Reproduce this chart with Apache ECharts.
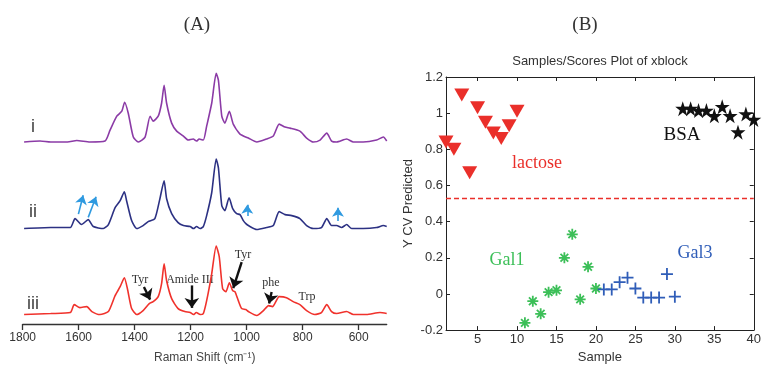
<!DOCTYPE html>
<html>
<head>
<meta charset="utf-8">
<title>Raman spectra and PLS-DA scores</title>
<script src="https://cdn.jsdelivr.net/npm/echarts@6/dist/echarts.min.js"></script>
<style>
  html, body { margin: 0; padding: 0; background: #fff; }
  #chart { width: 764px; height: 369px; }
</style>
</head>
<body>
<div id="chart"></div>
<script>
// ---- panel A: Raman spectra (intensity above each trace's own baseline, a.u.)
var waveI = [1795, 1738, 1700, 1640, 1607, 1560, 1506, 1488, 1464, 1446, 1436, 1423, 1405, 1387, 1363, 1345, 1334, 1316, 1304, 1295, 1286, 1268, 1250, 1226, 1209, 1191, 1179, 1170, 1155, 1143, 1125, 1109, 1101, 1089, 1078, 1062, 1048, 1024, 994, 964, 929, 905, 884, 863, 845, 810, 786, 762, 738, 714, 697, 679, 643, 619, 584, 536, 512, 500]
var intensityI = [0, 1, 0, 0, 1.5, 0, 1, 12, 26, 31, 40, 29, 5, 0, 5, 26, 21, 26, 39, 57, 39, 19, 11, 6, 2, 3, 1, 3, 2, 16, 39, 69, 62, 26, 19, 31, 18, 8, 4, 0, 3, 6, 18, 15, 14, 11, 4, 0, 2, 9, 1, 0, 3, 0, 0, 2, 5, 1]

var waveII = [1795, 1700, 1630, 1613, 1590, 1566, 1548, 1512, 1494, 1470, 1452, 1437, 1429, 1411, 1393, 1370, 1352, 1328, 1310, 1295, 1286, 1268, 1245, 1226, 1202, 1190, 1179, 1166, 1155, 1143, 1125, 1109, 1101, 1089, 1078, 1063, 1050, 1036, 1024, 1012, 1003, 994, 964, 929, 905, 884, 863, 839, 810, 786, 762, 733, 714, 697, 679, 661, 643, 625, 584, 536, 512, 500]
var intensityII = [0, 1, 1, 10, 4, 9, 2, 0, 4, 21, 28, 37, 28, 8, 0, 3, 7, 10, 30, 48, 30, 15, 6, 3, 2, 0, 2, 0, 2, 13, 36, 70, 61, 23, 18, 31, 20, 15, 14, 8, 5, 3, -1, 1, 3, 17, 14, 13, 10, 3, 0, 1, 10, 3, 3, 1, 4, 0, 0, 1, 3, 2]

var waveIII = [1795, 1700, 1630, 1616, 1596, 1571, 1553, 1524, 1494, 1470, 1452, 1437, 1426, 1411, 1393, 1370, 1348, 1334, 1316, 1304, 1295, 1286, 1268, 1245, 1221, 1202, 1190, 1180, 1166, 1155, 1143, 1125, 1109, 1098, 1086, 1074, 1062, 1050, 1042, 1030, 1018, 1003, 994, 964, 940, 922, 908, 884, 858, 834, 810, 786, 757, 733, 714, 697, 679, 643, 619, 572, 524, 500]
var intensityIII = [0, 1, 2, 10, 7, 8, 3, 0, 3, 19, 28, 37, 26, 6, 0, 4, 11, 13, 18, 31, 51, 34, 16, 6, 3, 2, 0, 2, 0, 1, 14, 41, 69, 58, 26, 23, 32, 24, 23, 14, 6, 5, 3, -1, 4, 9, 8, 18, 17, 13, 10, 4, 0, 2, 10, 3, 1, 3, 0, 0, 2, 1]

var ramanTicks = [600, 800, 1000, 1200, 1400, 1600, 1800]

// ---- panel B: samples/scores plot
var lactoseSample = [1, 2, 3, 4, 5, 6, 7, 8, 9, 10]
var lactoseValue = [0.84, 0.80, 1.10, 0.67, 1.03, 0.95, 0.89, 0.86, 0.93, 1.01]
var gal1Sample = [11, 12, 13, 14, 15, 16, 17, 18, 19, 20]
var gal1Value = [-0.16, -0.04, -0.11, 0.01, 0.02, 0.20, 0.33, -0.03, 0.15, 0.03]
var gal3Sample = [21, 22, 23, 24, 25, 26, 27, 28, 29, 30]
var gal3Value = [0.025, 0.025, 0.065, 0.09, 0.03, -0.02, -0.02, -0.02, 0.11, -0.015]
var bsaSample = [31, 32, 33, 34, 35, 36, 37, 38, 39, 40]
var bsaValue = [1.025, 1.025, 1.015, 1.015, 0.985, 1.035, 0.985, 0.895, 0.995, 0.965]
var threshold = 0.53
var sampleTicks = [5, 10, 15, 20, 25, 30, 35, 40]

// vertical offsets that stack the three spectra
var offsetI = 183
var offsetII = 96
var offsetIII = 9.5

function pairs(xs, ys, offset) {
  return xs.map(function (x, i) { return [x, ys[i] + (offset || 0)] })
}

var STAR = 'path://M50,0L61.2,34.5L97.6,34.5L68.2,55.9L79.4,90.5L50,69.1L20.6,90.5L31.8,55.9L2.4,34.5L38.8,34.5Z'
var ASTERISK = 'path://M5,0L5,10M0,5L10,5M1.5,1.5L8.5,8.5M1.5,8.5L8.5,1.5'
var PLUS = 'path://M5,0L5,10M0,5L10,5'

var serif = '"Liberation Serif", "DejaVu Serif", serif'
var sans = '"Liberation Sans", Arial, sans-serif'

function arrow(from, to, color, width) {
  return [
    { coord: from, lineStyle: { color: color, width: width, type: 'solid' } },
    { coord: to }
  ]
}

function text(x, y, str, size, color, family) {
  return {
    type: 'text',
    x: x,
    y: y,
    silent: true,
    style: {
      text: str,
      fill: color,
      fontSize: size,
      fontFamily: family,
      textAlign: 'center',
      textVerticalAlign: 'middle'
    }
  }
}

var chart = echarts.init(document.getElementById('chart'), null, { renderer: 'canvas' })

var boxAxis = {
  axisLine: { show: true, onZero: false, lineStyle: { color: '#222', width: 1 } },
  splitLine: { show: false }
}

var option = {
  animation: false,
  backgroundColor: '#fff',
  grid: [
    { left: 22.7, right: 377.3, top: 60, bottom: 43.5 },
    { left: 446, right: 9, top: 77, bottom: 29.5 }
  ],
  xAxis: [
    {
      gridIndex: 0,
      type: 'value',
      inverse: true,
      min: 500,
      max: 1800,
      axisLine: { show: true, onZero: false, lineStyle: { color: '#333', width: 1.3 } },
      axisTick: { show: true, customValues: ramanTicks, length: 6, lineStyle: { color: '#333', width: 1.3 } },
      axisLabel: {
        customValues: ramanTicks,
        color: '#333',
        fontSize: 12,
        fontFamily: sans,
        margin: 8,
        formatter: function (v) { return String(v) }
      },
      splitLine: { show: false },
      name: 'Raman Shift (cm\u207B\u00B9)',
      nameLocation: 'middle',
      nameGap: 28,
      nameTextStyle: { color: '#444', fontSize: 12, fontFamily: sans }
    },
    Object.assign({
      gridIndex: 1,
      type: 'value',
      min: 1,
      max: 40,
      position: 'bottom',
      axisTick: { show: true, inside: true, length: 4, customValues: sampleTicks, lineStyle: { color: '#222' } },
      axisLabel: { customValues: sampleTicks, color: '#333', fontSize: 13, fontFamily: sans, margin: 3 },
      name: 'Sample',
      nameLocation: 'middle',
      nameGap: 15,
      nameTextStyle: { color: '#333', fontSize: 13, fontFamily: sans }
    }, boxAxis),
    Object.assign({
      gridIndex: 1,
      type: 'value',
      min: 1,
      max: 40,
      position: 'top',
      axisTick: { show: true, inside: true, length: 4, customValues: sampleTicks, lineStyle: { color: '#222' } },
      axisLabel: { show: false }
    }, boxAxis)
  ],
  yAxis: [
    { gridIndex: 0, type: 'value', min: 0, max: 265.5, show: false },
    Object.assign({
      gridIndex: 1,
      type: 'value',
      min: -0.2,
      max: 1.2,
      interval: 0.2,
      position: 'left',
      axisTick: { show: true, inside: true, length: 4, lineStyle: { color: '#222' } },
      axisLabel: { color: '#333', fontSize: 13, fontFamily: sans, margin: 3 },
      name: 'Y CV Predicted',
      nameLocation: 'middle',
      nameGap: 31,
      nameTextStyle: { color: '#333', fontSize: 13, fontFamily: sans }
    }, boxAxis),
    Object.assign({
      gridIndex: 1,
      type: 'value',
      min: -0.2,
      max: 1.2,
      interval: 0.2,
      position: 'right',
      axisTick: { show: true, inside: true, length: 4, lineStyle: { color: '#222' } },
      axisLabel: { show: false }
    }, boxAxis)
  ],
  series: [
    {
      name: 'i',
      type: 'line',
      xAxisIndex: 0,
      yAxisIndex: 0,
      showSymbol: false,
      smooth: 0.2,
      lineStyle: { color: '#8b3ba6', width: 1.6 },
      data: pairs(waveI, intensityI, offsetI)
    },
    {
      name: 'ii',
      type: 'line',
      xAxisIndex: 0,
      yAxisIndex: 0,
      showSymbol: false,
      smooth: 0.2,
      lineStyle: { color: '#2c3183', width: 1.6 },
      data: pairs(waveII, intensityII, offsetII),
      markLine: {
        silent: true,
        symbol: ['none', 'arrow'],
        symbolSize: [9, 9],
        label: { show: false },
        data: [
          arrow([1601, 110.5], [1584, 129.5], '#2f9ae0', 1.6),
          arrow([1566, 107.2], [1538, 128], '#2f9ae0', 1.6),
          arrow([998, 108.5], [998, 120], '#2f9ae0', 1.6),
          arrow([674, 103.5], [674, 117], '#2f9ae0', 1.6)
        ]
      }
    },
    {
      name: 'iii',
      type: 'line',
      xAxisIndex: 0,
      yAxisIndex: 0,
      showSymbol: false,
      smooth: 0.2,
      lineStyle: { color: '#f0322c', width: 1.6 },
      data: pairs(waveIII, intensityIII, offsetIII),
      markLine: {
        silent: true,
        symbol: ['none', 'arrow'],
        symbolSize: [11, 10],
        label: { show: false },
        data: [
          arrow([1367, 37.2], [1345, 24.5], '#111', 2.4),
          arrow([1196, 38.8], [1196, 16.2], '#111', 2.4),
          arrow([1018, 62.2], [1048, 36.2], '#111', 2.4),
          arrow([911, 32.2], [920, 20.5], '#111', 2.4)
        ]
      }
    },
    {
      name: 'lactose',
      type: 'scatter',
      xAxisIndex: 1,
      yAxisIndex: 1,
      symbol: 'triangle',
      symbolRotate: 180,
      symbolSize: [15, 13],
      itemStyle: { color: '#ea2f2a', opacity: 1 },
      data: pairs(lactoseSample, lactoseValue),
      markLine: {
        silent: true,
        symbol: 'none',
        label: { show: false },
        lineStyle: { color: '#ea2f2a', type: [5, 3], width: 1.3 },
        data: [{ yAxis: threshold }]
      }
    },
    {
      name: 'Gal1',
      type: 'scatter',
      xAxisIndex: 1,
      yAxisIndex: 1,
      symbol: ASTERISK,
      symbolSize: 11,
      itemStyle: { color: 'transparent', borderColor: '#3cbf58', borderWidth: 1.8, opacity: 1 },
      data: pairs(gal1Sample, gal1Value)
    },
    {
      name: 'Gal3',
      type: 'scatter',
      xAxisIndex: 1,
      yAxisIndex: 1,
      symbol: PLUS,
      symbolSize: 12,
      itemStyle: { color: 'transparent', borderColor: '#2f5db8', borderWidth: 1.8, opacity: 1 },
      data: pairs(gal3Sample, gal3Value)
    },
    {
      name: 'BSA',
      type: 'scatter',
      xAxisIndex: 1,
      yAxisIndex: 1,
      symbol: STAR,
      symbolSize: 15,
      itemStyle: { color: '#111', opacity: 1 },
      data: pairs(bsaSample, bsaValue)
    }
  ],
  graphic: [
    text(197, 25, '(A)', 19, '#333', serif),
    text(585, 25, '(B)', 19, '#333', serif),
    text(600, 61, 'Samples/Scores Plot of xblock', 13, '#333', sans),
    text(33, 127, 'i', 18, '#444', sans),
    text(33, 212, 'ii', 18, '#444', sans),
    text(33, 304, 'iii', 18, '#444', sans),
    text(140, 280, 'Tyr', 12, '#333', serif),
    text(190, 279.5, 'Amide III', 12, '#333', serif),
    text(243, 255, 'Tyr', 12, '#333', serif),
    text(271, 283, 'phe', 12, '#333', serif),
    text(307, 297, 'Trp', 12, '#333', serif),
    text(537, 163, 'lactose', 18, '#ea2f2a', serif),
    text(682, 135, 'BSA', 19, '#111', serif),
    text(507, 260, 'Gal1', 18, '#3cbf58', serif),
    text(695, 253, 'Gal3', 18, '#2f5db8', serif)
  ]
}

chart.setOption(option)
</script>
</body>
</html>
